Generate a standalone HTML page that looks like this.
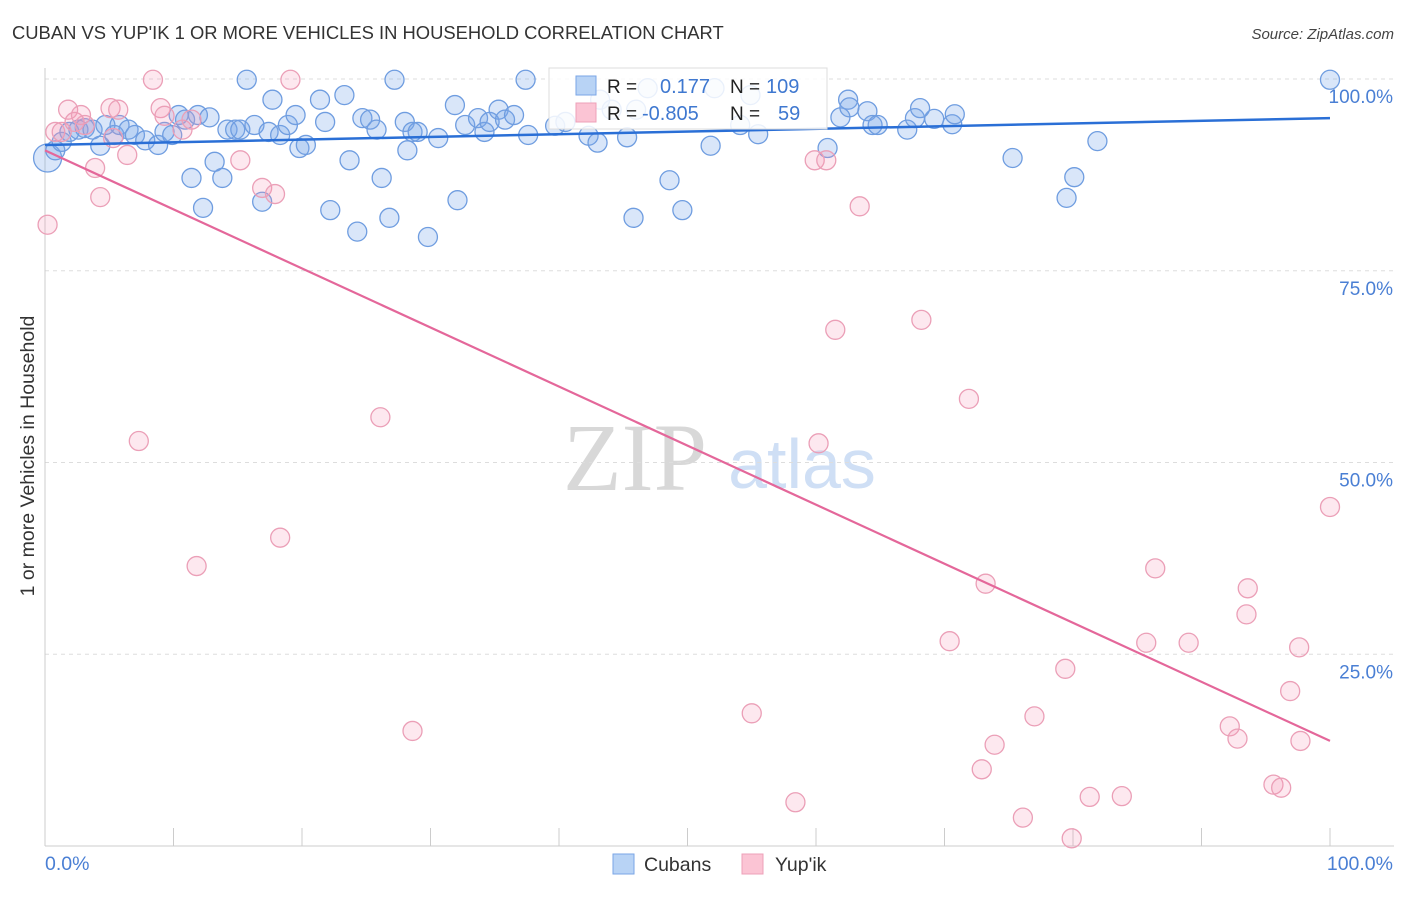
<!DOCTYPE html>
<html><head><meta charset="utf-8">
<style>
body{margin:0;background:#fff;font-family:"Liberation Sans",sans-serif;}
svg text{font-family:"Liberation Sans",sans-serif;}
</style></head>
<body>
<svg id="chart" width="1406" height="892" viewBox="0 0 1406 892" xmlns="http://www.w3.org/2000/svg">
<text x="12" y="39" font-size="18.4" fill="#333">CUBAN VS YUP'IK 1 OR MORE VEHICLES IN HOUSEHOLD CORRELATION CHART</text>
<text x="1394" y="39" font-size="15" fill="#444" text-anchor="end" font-style="italic">Source: ZipAtlas.com</text>
<g>
<text x="635" y="490" font-size="96" font-family="Liberation Serif" fill="#d8d8d8" text-anchor="middle" style="font-family:'Liberation Serif',serif">ZIP</text>
<text x="802" y="488" font-size="70" fill="#cfdff5" text-anchor="middle">atlas</text>
</g>
<g id="grid"></g>
<g id="axes"></g>
<g id="points"></g>
<g id="trends"></g>
<text transform="translate(34,456) rotate(-90)" font-size="19.5" fill="#333" text-anchor="middle">1 or more Vehicles in Household</text>
<text x="45" y="870" font-size="19.5" fill="#4a7fd4">0.0%</text>
<text x="1393" y="870" font-size="19.5" fill="#4a7fd4" text-anchor="end">100.0%</text>
<g>
<rect x="549" y="68" width="278" height="61" fill="#fff" fill-opacity="0.85" stroke="#ddd"/>
<rect x="576" y="76" width="20" height="19" fill="#b8d3f5" stroke="#7aa6e6"/>
<rect x="576" y="103" width="20" height="19" fill="#fbc4d4" stroke="#eea0b8"/>
<text x="607" y="93" font-size="19" fill="#222">R =</text>
<text x="660" y="93" font-size="20" fill="#3f78d0">0.177</text>
<text x="730" y="93" font-size="19" fill="#222">N =</text>
<text x="766" y="93" font-size="20" fill="#3f78d0">109</text>
<text x="607" y="120" font-size="19" fill="#222">R =</text>
<text x="642" y="120" font-size="20" fill="#3f78d0">-0.805</text>
<text x="730" y="120" font-size="19" fill="#222">N =</text>
<text x="778" y="120" font-size="20" fill="#3f78d0">59</text>
</g>
<g>
<rect x="613" y="854" width="21" height="20" fill="#b8d3f5" stroke="#7aa6e6"/>
<text x="644" y="871" font-size="19.5" fill="#333">Cubans</text>
</g>
<g>
<rect x="742" y="854" width="21" height="20" fill="#fbc4d4" stroke="#eea0b8"/>
<text x="775" y="871" font-size="19.5" fill="#333">Yup'ik</text>
</g>
</svg>
<script>
const yTicks=[100,75,50,25];
const yTickLabels=["100.0%","75.0%","50.0%","25.0%"];
const xTicks=[0,10,20,30,40,50,60,70,80,90,100];
const cubanX=[0.2,0.8,1.3,1.9,2.6,3.1,3.7,4.3,4.7,5.4,5.8,6.5,7.0,7.8,8.8,9.3,9.9,10.4,10.9,11.4,11.9,12.3,12.8,13.2,13.8,14.2,14.8,15.2,15.7,16.3,16.9,17.4,17.7,18.3,18.9,19.5,19.8,20.3,21.4,21.8,22.2,23.3,23.7,24.3,24.7,25.3,25.8,26.2,26.8,27.2,28.0,28.2,28.6,29.0,29.8,30.6,31.9,32.1,32.7,33.7,34.2,34.6,35.3,35.8,36.5,37.4,37.6,39.7,40.5,42.3,43.0,43.2,44.1,45.3,45.8,46.0,46.9,48.6,49.6,51.8,52.1,54.1,54.9,55.5,60.9,61.9,62.5,62.6,64.0,64.4,64.8,67.1,67.7,68.1,69.2,70.6,70.8,75.3,79.5,80.1,81.9,100];
const cubanY=[89.7,90.7,91.8,93.1,93.4,93.6,93.4,91.3,94.0,92.7,94.0,93.4,92.7,92.0,91.4,93.1,92.7,95.3,94.7,87.1,95.3,83.2,95.0,89.2,87.1,93.4,93.4,93.4,99.9,94.0,84.0,93.1,97.3,92.7,94.0,95.3,91.0,91.4,97.3,94.4,82.9,97.9,89.4,80.1,94.9,94.7,93.4,87.1,81.9,99.9,94.4,90.7,93.1,93.1,79.4,92.3,96.6,84.2,94.0,94.9,93.1,94.4,96.0,94.7,95.3,99.9,92.7,93.9,94.4,92.6,91.7,97.3,96.0,92.4,81.9,96.0,98.8,86.8,82.9,91.3,98.8,94.0,97.9,92.8,91.0,95.0,97.3,96.3,95.8,94.0,94.0,93.4,94.9,96.2,94.8,94.1,95.4,89.7,84.5,87.2,91.9,99.9];
const yupikX=[0.2,0.8,1.3,1.8,2.3,2.8,3.1,3.9,4.3,5.1,5.7,5.3,6.4,7.3,8.4,9.0,9.3,10.7,11.4,11.8,15.2,16.9,17.9,18.3,19.1,26.1,28.6,58.4,55.0,59.9,60.8,60.2,61.5,63.4,68.2,70.4,71.9,72.9,73.2,73.9,76.1,77.0,79.4,79.9,81.3,83.8,85.7,86.4,89.0,92.2,92.8,93.5,93.6,95.6,96.2,96.9,97.6,97.7,100];
const yupikY=[81.0,93.1,93.1,96.0,94.4,95.3,94.0,88.4,84.6,96.2,96.0,92.3,90.1,52.8,99.9,96.2,95.2,93.4,94.7,36.5,89.4,85.8,85.0,40.2,99.9,55.9,15.0,5.7,17.3,89.4,89.4,52.5,67.3,83.4,68.6,26.7,58.3,10.0,34.2,13.2,3.7,16.9,23.1,1.0,6.4,6.5,26.5,36.2,26.5,15.6,14.0,30.2,33.6,8.0,7.6,20.2,25.9,13.7,44.2];
const cubanTrend=[91.4,94.9];
const yupikTrend=[90.7,13.7];

const NS="http://www.w3.org/2000/svg";
const X0=45,X1=1330,Y0=846,Y100=79;
const sx=v=>X0+(X1-X0)*v/100;
const sy=v=>Y0-(Y0-Y100)*v/100;
function mk(tag,attrs,parent){const e=document.createElementNS(NS,tag);for(const k in attrs)e.setAttribute(k,attrs[k]);parent.appendChild(e);return e;}
const grid=document.getElementById('grid'),axes=document.getElementById('axes'),pts=document.getElementById('points'),tr=document.getElementById('trends');
yTicks.forEach((t,i)=>{
  const l=mk('line',{x1:X0,x2:1394,y1:sy(t),y2:sy(t),stroke:'#ddd','stroke-dasharray':'4,4'},grid);
  
  
  const tx=mk('text',{x:1393,y:sy(t)+24,'font-size':19,fill:'#4a7fd4','text-anchor':'end'},grid);
  tx.textContent=yTickLabels[i];
  
  
});
const ax=mk('line',{x1:X0,x2:X0,y1:68,y2:Y0,stroke:'#ccc'},axes);


const bx=mk('line',{x1:X0,x2:1394,y1:Y0,y2:Y0,stroke:'#ccc'},axes);


xTicks.forEach(t=>{
  const l=mk('line',{x1:sx(t),x2:sx(t),y1:Y0,y2:Y0-18,stroke:'#ccc'},axes);
  
  
});
cubanX.forEach((v,i)=>{
  const c=mk('circle',{cx:sx(v),cy:sy(cubanY[i]),r:i===0?14:9.5,fill:'rgba(120,165,235,0.28)',stroke:'#6f9de0','stroke-width':1.3},pts);
  
  
});
yupikX.forEach((v,i)=>{
  const c=mk('circle',{cx:sx(v),cy:sy(yupikY[i]),r:9.5,fill:'rgba(245,150,180,0.22)',stroke:'#eb9fb7','stroke-width':1.3},pts);
  
  
});
const lb=mk('line',{x1:sx(0),y1:sy(cubanTrend[0]),x2:sx(100),y2:sy(cubanTrend[1]),stroke:'#2a6fd6','stroke-width':2.5},tr);


const lp=mk('line',{x1:sx(0),y1:sy(yupikTrend[0]),x2:sx(100),y2:sy(yupikTrend[1]),stroke:'#e4679a','stroke-width':2.2},tr);


</script>
</body></html>
